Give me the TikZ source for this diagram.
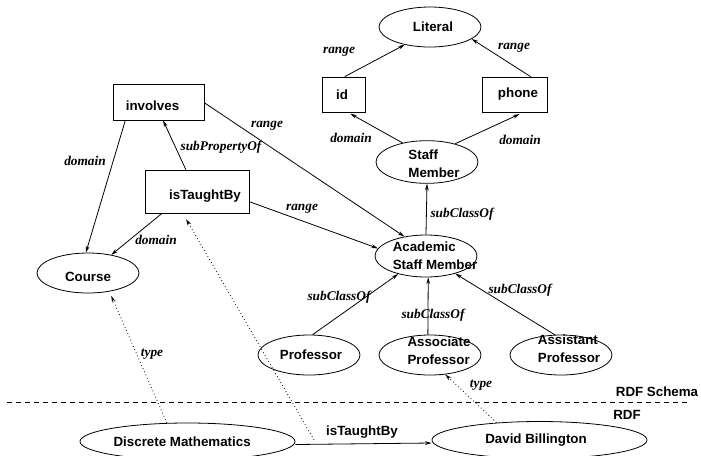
\documentclass[tikz,border=0pt]{standalone}
\usepackage{fontspec}
\setmainfont{Liberation Serif}
\setsansfont{Liberation Sans}
\usetikzlibrary{arrows.meta,shapes.geometric}

\begin{document}
\begin{tikzpicture}[x=0.75pt,y=-0.75pt,line width=0.6pt,
	cls/.style={draw,ellipse,inner sep=0pt,minimum width=76.5pt,minimum height=30pt},
	prop/.style={draw,rectangle,inner sep=0pt},
	txt/.style={font=\sffamily\bfseries\fontsize{10}{13.5}\selectfont,align=left,inner sep=0pt},
	elbl/.style={font=\bfseries\itshape,inner sep=0pt},
	arr/.style={-{Stealth[length=5pt,width=2.8pt]}},
	inst/.style={arr,dotted}]
	\useasboundingbox (0,0) rectangle (701,455);
	
	% draw classes
	\node[cls,label={[txt,xshift=2.25pt]center:Literal}] (literal) at (430,27) {};
	\node[cls,minimum height=32pt,label={[txt,xshift=5.25pt,yshift=-1.5pt]center:Staff\\Member}] (staff) at (427,162) {};
	\node[cls,minimum height=31.5pt,label={[txt,xshift=6.75pt]center:Academic\\Staff Member}] (acad) at (426,256) {};
	\node[cls,label={[txt,xshift=1.5pt]center:Professor}] (prof) at (309,355) {};
	\node[cls,label={[txt,xshift=6.75pt,yshift=3pt]center:Associate\\Professor}] (assoc) at (430,355) {};
	\node[cls,label={[txt,xshift=6pt,yshift=4.5pt]center:Assistant\\Professor}] (assist) at (561,355) {};
	\node[cls,label={[txt,yshift=-3pt]center:Course}] (course) at (88,273) {};
	
	% draw properties
	\node[prop,minimum width=32.25pt,minimum height=26.25pt,label={[txt,xshift=-1pt]center:id}] (id) at (343.5,94.5) {};
	\node[prop,minimum width=48.75pt,minimum height=26.25pt,label={[txt,xshift=2.6pt]center:phone}] (phone) at (514.5,94.5) {};
	\node[prop,minimum width=68.25pt,minimum height=27pt,label={[txt,xshift=-4.5pt,yshift=-2.6pt]center:involves}] (involves) at (158.5,102) {};
	\node[prop,minimum width=78pt,minimum height=32.25pt,label={[txt,xshift=6pt,yshift=-3.75pt]center:isTaughtBy}] (taught) at (197,191.5) {};
	
	% draw instances
	\node[cls,minimum width=161.25pt,minimum height=27.75pt,label={[txt,xshift=-4pt]center:Discrete Mathematics}] (discrete) at (187.5,441.5) {};
	\node[cls,minimum width=161.25pt,minimum height=27.75pt,label={[txt,xshift=-2.6pt]center:David Billington}] (david) at (539.5,440) {};
	
	% layers
	\draw[dashed,dash pattern=on 3.75pt off 3pt] (7,402) -- (688,402);
	\node[txt] (schema) at (657,392) {RDF Schema};
	\node[txt] (rdf) at (627,415) {RDF};
	
	% schema edges
	\draw[arr] (involves.-151) -- (course.96) node[elbl] at (85,161) {domain};
	\draw[arr] (taught.117) -- (involves.-76) node[elbl] at (221,147) {subPropertyOf};
	\draw[arr] (involves.-1) -- (acad.138) node[elbl] at (267,126) {range};
	\draw[arr] (taught.-11) -- (acad.171) node[elbl] at (302,209) {range};
	\draw[arr] (taught.-148) -- (course.38) node[elbl] at (156,240) {domain};
	\draw[arr,shorten >=2pt] (staff.142) -- (id.-76) node[elbl] at (351,138) {domain};
	\draw[arr,shorten >=3pt] (staff.33) -- (phone.-64) node[elbl] at (520,140) {domain};
	\draw[arr] (id.86) -- (literal.-145) node[elbl] at (339,52) {range};
	\draw[arr] (phone.48) -- (literal.-16) node[elbl] at (514,48) {range};
	\draw[arr] (acad.north) -- (staff.south) node[elbl] at (462,214) {subClassOf};
	\draw[arr] (prof.80) -- (acad.-147) node[elbl] at (339,297) {subClassOf};
	\draw[arr] (assoc.96) -- (acad.-84) node[elbl] at (433,315) {subClassOf};
	\draw[arr] (assist.107) -- (acad.-31) node[elbl] at (520,290) {subClassOf};
	
	% instance edges
	\draw[inst,shorten >=3.5pt] (discrete.138) -- (course.-41) node[elbl] at (152,354) {type};
	\draw[inst] (david.158) -- (assoc.-52) node[elbl] at (481,385) {type};
	\draw[arr] ([yshift=-2.25pt]discrete.east) -- ([yshift=-2.25pt]david.west) node[txt] at (362,432) {isTaughtBy};
	\coordinate (stmt) at (314,440);
	\draw[inst,shorten >=5pt] (stmt) -- (taught.-123);
	
\end{tikzpicture}
\end{document}
